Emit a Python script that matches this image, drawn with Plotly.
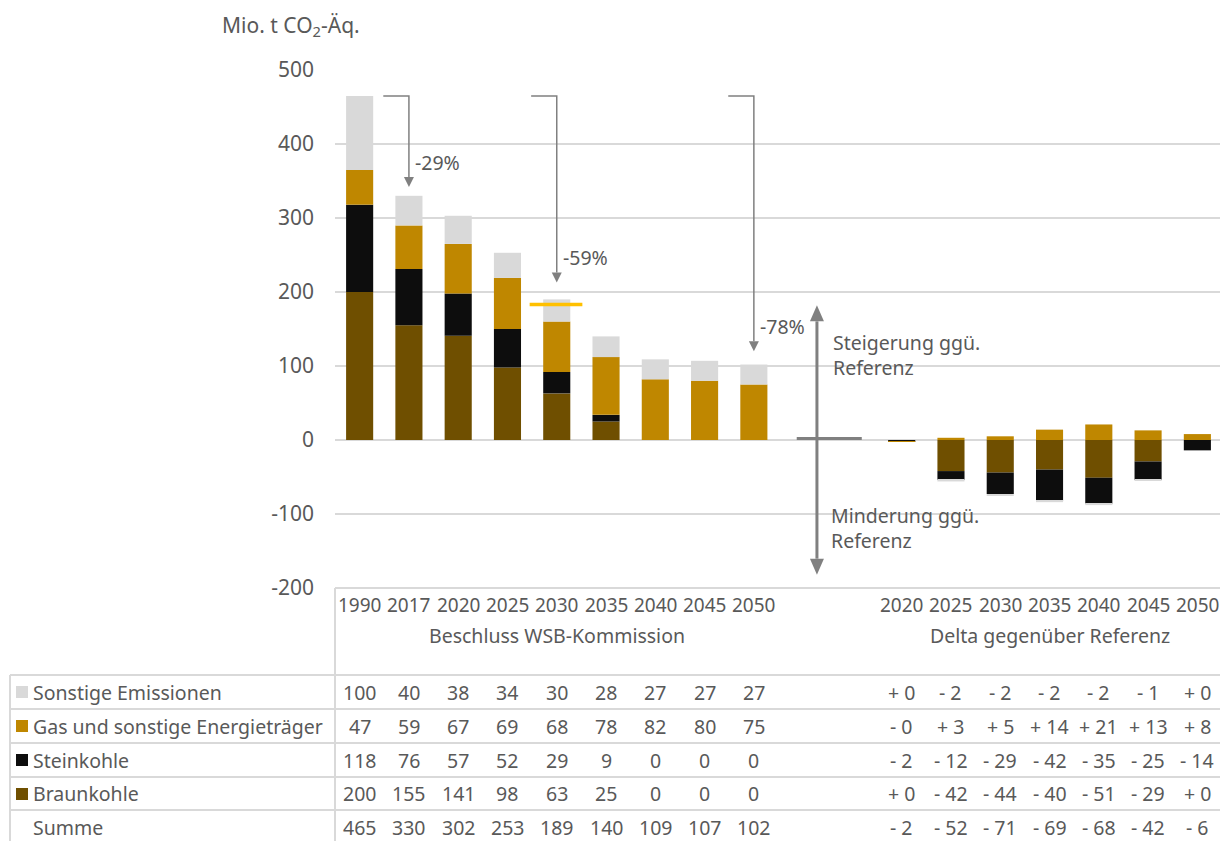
import plotly.graph_objects as go

# ---------------- data ----------------
years_main = ["1990", "2017", "2020", "2025", "2030", "2035", "2040", "2045", "2050"]
sonstige = [100, 40, 38, 34, 30, 28, 27, 27, 27]
gas = [47, 59, 67, 69, 68, 78, 82, 80, 75]
steinkohle = [118, 76, 57, 52, 29, 9, 0, 0, 0]
braunkohle = [200, 155, 141, 98, 63, 25, 0, 0, 0]
summe = [465, 330, 302, 253, 189, 140, 109, 107, 102]

years_delta = ["2020", "2025", "2030", "2035", "2040", "2045", "2050"]
d_sonstige = [0, -2, -2, -2, -2, -1, 0]
d_gas = [-0.3, 3, 5, 14, 21, 13, 8]
d_steinkohle = [-2, -12, -29, -42, -35, -25, -14]
d_braunkohle = [0, -42, -44, -40, -51, -29, 0]
d_summe = [-2, -52, -71, -69, -68, -42, -6]

target_2030 = 183
y_ticks = [500, 400, 300, 200, 100, 0, -100, -200]
y_ticktext = ["500", "400", "300", "200", "100", "0", "-100", "-200"]

colors = {"Sonstige Emissionen": "#D9D9D9", "Gas und sonstige Energieträger": "#BF8700",
          "Steinkohle": "#0D0D0D", "Braunkohle": "#6F4F00"}

# ---------------- layout helpers ----------------
PAGE_W, PAGE_H = 1228, 841
BODY = 8  # browser body margin
W, H = PAGE_W - BODY, PAGE_H - BODY
L, R, T, B = 335, 1222, 70, 588   # plot area in page pixels
FONT = "Noto Sans"
TXT = "#595959"
LINE = "#D9D9D9"
FS = 19.5

def pxx(px):
    return (px - L) / (R - L)

def pxy(py):
    return (B - py) / (B - T)

x_main = list(range(len(years_main)))
gap = 2
x_delta = [len(years_main) + gap + i for i in range(len(years_delta))]
n_slots = len(years_main) + gap + len(years_delta)

# data units per pixel (for arrowhead sizes)
UX = n_slots / (R - L)
UY = 700 / (B - T)

fig = go.Figure()
stack = [("Braunkohle", braunkohle, d_braunkohle), ("Steinkohle", steinkohle, d_steinkohle),
         ("Gas und sonstige Energieträger", gas, d_gas), ("Sonstige Emissionen", sonstige, d_sonstige)]
for name, vals, dvals in stack:
    fig.add_trace(go.Bar(x=x_main + x_delta, y=vals + dvals, name=name,
                         marker=dict(color=colors[name], line=dict(width=0)),
                         width=0.55, showlegend=False, hoverinfo="skip"))

shapes = []
annotations = []

def head(x, y, direction, wpx, hpx, color):
    # triangle with apex at (x, y); direction -1 = pointing down, +1 = pointing up
    hw = wpx / 2 * UX
    hh = hpx * UY * (-direction)
    path = f"M {x},{y} L {x - hw},{y + hh} L {x + hw},{y + hh} Z"
    shapes.append(dict(type="path", xref="x", yref="y", path=path, fillcolor=color, line=dict(width=0)))
    return y + hh

# target line 2030
i2030 = years_main.index("2030")
shapes.append(dict(type="line", xref="x", yref="y", x0=i2030 - 0.55, x1=i2030 + 0.52,
                   y0=target_2030, y1=target_2030, line=dict(color="#FFC000", width=3.5)))

# reduction arrows
arrow_col = "#808080"
start_val = summe[0]
for yr, off in [("2017", 12), ("2030", 24), ("2050", 18)]:
    i = years_main.index(yr)
    top = max(summe[i], target_2030) if yr == "2030" else summe[i]
    tip = top + off
    base = head(i, tip, -1, 10, 10, arrow_col)
    shapes.append(dict(type="path", xref="x", yref="y",
                       path=f"M {i - 0.52},{start_val} L {i},{start_val} L {i},{base}",
                       line=dict(color=arrow_col, width=1.5)))
    pct = round((summe[i] / summe[0] - 1) * 100)
    annotations.append(dict(x=i + 0.08, y=tip + 33, xref="x", yref="y", text=f"{pct}%", showarrow=False,
                            xanchor="left", yanchor="middle", font=dict(family=FONT, size=FS, color=TXT)))

# cross with double arrow
xc = len(years_main) + 0.28
shapes.append(dict(type="line", xref="x", yref="y", x0=len(years_main) - 0.13, x1=len(years_main) + 1.19,
                   y0=2, y1=2, line=dict(color=arrow_col, width=3)))
b_top = head(xc, 182, 1, 14, 16, arrow_col)
b_bot = head(xc, -182, -1, 14, 16, arrow_col)
shapes.append(dict(type="line", xref="x", yref="y", x0=xc, x1=xc, y0=b_bot, y1=b_top,
                   line=dict(color=arrow_col, width=3)))
annotations.append(dict(x=xc + 0.28, y=115, xref="x", yref="y", text="Steigerung ggü.<br>Referenz",
                        showarrow=False, xanchor="left", yanchor="middle", align="left",
                        font=dict(family=FONT, size=FS, color=TXT)))
annotations.append(dict(x=xc + 0.24, y=-119, xref="x", yref="y", text="Minderung ggü.<br>Referenz",
                        showarrow=False, xanchor="left", yanchor="middle", align="left",
                        font=dict(family=FONT, size=FS, color=TXT)))

# y unit label
annotations.append(dict(x=pxx(220), y=pxy(26), xref="paper", yref="paper", text="Mio. t CO<sub>2</sub>-Äq.",
                        showarrow=False, xanchor="left", yanchor="middle",
                        font=dict(family=FONT, size=21, color=TXT)))

# ---------------- table ----------------
def hline(x0, x1, py):
    shapes.append(dict(type="line", xref="paper", yref="paper", x0=pxx(x0), x1=pxx(x1), y0=pxy(py), y1=pxy(py),
                       line=dict(color=LINE, width=2)))

def vline(px, y0, y1):
    shapes.append(dict(type="line", xref="paper", yref="paper", x0=pxx(px), x1=pxx(px), y0=pxy(y0), y1=pxy(y1),
                       line=dict(color=LINE, width=2)))

hline(L, R, B)
row_lines = [675, 709, 743, 777, 810]
for py in row_lines:
    hline(10, R, py)
vline(L, B, PAGE_H)
vline(R, B, PAGE_H)
vline(10, 675, PAGE_H)

def txt(x, py, s, xref="x", anchor="center", size=FS):
    annotations.append(dict(x=x, y=pxy(py), xref=xref, yref="paper", text=s, showarrow=False,
                            xanchor=anchor, yanchor="middle", font=dict(family=FONT, size=size, color=TXT)))

for i, yr in zip(x_main, years_main):
    txt(i, 605, yr, size=19)
for i, yr in zip(x_delta, years_delta):
    txt(i, 605, yr, size=19)
txt((x_main[0] + x_main[-1]) / 2, 635, "Beschluss WSB-Kommission")
txt((x_delta[0] + x_delta[-1]) / 2, 635, "Delta gegenüber Referenz")

def fmt_delta(v):
    sign = "-" if v < 0 else "+"
    return f"{sign} {abs(round(v))}"

rows = [("Sonstige Emissionen", sonstige, d_sonstige),
        ("Gas und sonstige Energieträger", gas, d_gas),
        ("Steinkohle", steinkohle, d_steinkohle),
        ("Braunkohle", braunkohle, d_braunkohle),
        ("Summe", summe, d_summe)]
row_centers = [692, 726, 760, 794, 827]
for (name, vals, dvals), py in zip(rows, row_centers):
    if name in colors:
        shapes.append(dict(type="rect", xref="paper", yref="paper", x0=pxx(16), x1=pxx(28),
                           y0=pxy(py + 6), y1=pxy(py - 6), line=dict(width=0), fillcolor=colors[name]))
    txt(pxx(31), py, name, xref="paper", anchor="left")
    for i, v in zip(x_main, vals):
        txt(i, py, str(v))
    for i, v in zip(x_delta, dvals):
        txt(i, py, fmt_delta(v))

fig.update_layout(
    width=W, height=H,
    margin=dict(l=L - BODY, r=PAGE_W - R, t=T - BODY, b=PAGE_H - B),
    paper_bgcolor="white", plot_bgcolor="white",
    barmode="relative",
    shapes=shapes, annotations=annotations,
    font=dict(family=FONT, color=TXT),
    xaxis=dict(range=[-0.5, n_slots - 0.5], showticklabels=False, showgrid=False, zeroline=False,
               showline=False, ticks=""),
    yaxis=dict(range=[-200, 500], tickvals=y_ticks, ticktext=y_ticktext, showgrid=True, gridcolor=LINE,
               gridwidth=2, zeroline=True, zerolinecolor=LINE, zerolinewidth=2, showline=False,
               tickfont=dict(family=FONT, size=21, color=TXT), ticklabelstandoff=20),
)

fig.write_html("out.html")
